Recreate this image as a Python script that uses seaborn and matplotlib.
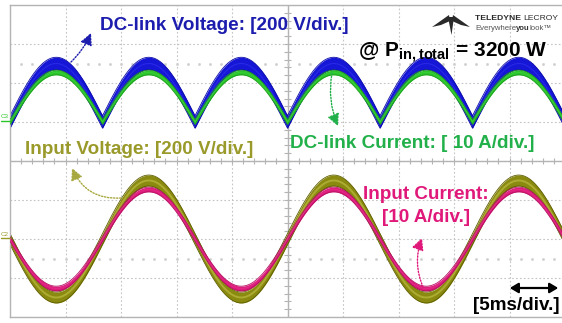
import numpy as np
import pandas as pd
import matplotlib
matplotlib.use("Agg")
import matplotlib.pyplot as plt
from matplotlib.patches import Polygon, FancyArrowPatch
from matplotlib import font_manager
import seaborn as sns

# ---- scope settings -------------------------------------------------------
time_per_div_ms = 5.0
n_hdiv = 10
n_vdiv = 8
volts_per_div = 200.0
amps_per_div = 10.0
dc_ground_div = 1.0     # C3 ground level (DC-link traces)
ac_ground_div = -2.0    # C2 ground level (input traces)

# ---- measured waveform parameters ------------------------------------------
line_freq_hz = 60.0
v_in_peak = 300.0        # V
i_in_peak = 12.7         # A
v_band = 32.0            # V, half width of DC-link voltage switching band
i_dc_band = 0.6          # A, half width of DC-link current band
v_in_band = 28.0         # V, half width of input voltage band
i_in_band = 0.6          # A, half width of input current band

labels = {
    "dc_v": "DC-link Voltage: [200 V/div.]",
    "dc_i": "DC-link Current: [ 10 A/div.]",
    "in_v": "Input Voltage: [200 V/div.]",
    "in_i": ["Input Current:", "[10 A/div.]"],
    "time": "[5ms/div.]",
    "power": r"@ $\mathbf{P}_{\mathbf{in,total}}$ = 3200 W",
}

W, H = 562, 323
sns.set_theme(style="white")
plt.rcParams["font.family"] = ["Liberation Sans", "DejaVu Sans"]
plt.rcParams["mathtext.fontset"] = "custom"
plt.rcParams["mathtext.bf"] = "Liberation Sans:bold"
plt.rcParams["mathtext.rm"] = "Liberation Sans"

installed = {f.name for f in font_manager.fontManager.ttflist}
narrow = "Liberation Sans Narrow" in installed
logo_family = ["Liberation Sans Narrow"] if narrow else ["Liberation Sans"]

fig = plt.figure(figsize=(W / 100, H / 100), dpi=100)
fig.patch.set_facecolor("white")

# screen area: 10 divisions wide, 8 divisions tall
ax = fig.add_axes([10 / W, (H - 317) / H, 555 / W, 312 / H])
t_end = n_hdiv * time_per_div_ms
ax.set_xlim(0, t_end)
ax.set_ylim(-n_vdiv / 2, n_vdiv / 2)
ax.set_xticks(np.arange(0, t_end + 0.1, time_per_div_ms))
ax.set_yticks(np.arange(-n_vdiv / 2, n_vdiv / 2 + 0.1, 1))
ax.tick_params(length=0, labelbottom=False, labelleft=False)
ax.grid(True, color="#c4c4c4", linestyle=(0, (1.5, 2)), linewidth=0.8)
for side in ["left", "top", "bottom", "right"]:
    ax.spines[side].set_color("#b4b4b4")
    ax.spines[side].set_linewidth(1.0)

# centre axes with minor ticks
ax.axhline(0, color="#b4b4b4", lw=1.0, zorder=1)
ax.axvline(t_end / 2, color="#b4b4b4", lw=1.0, zorder=1)
ax.vlines(np.arange(1, t_end, 1), -0.07, 0.07, color="#b4b4b4", lw=0.8, zorder=1)
ax.hlines(np.arange(-3.8, 4, 0.2), t_end / 2 - 0.3, t_end / 2 + 0.3,
          color="#b4b4b4", lw=0.8, zorder=1)
for yy in (2.5, -2.5):
    ax.plot(np.arange(1, t_end, 1), np.full(int(t_end) - 1, yy), ls="none",
            marker="s", ms=0.9, color="#cfcfcf", zorder=1)

# ---- waveforms ----------------------------------------------------------------
t = np.linspace(0, t_end, 4001)
phase = -np.sin(2 * np.pi * line_freq_hz * t / 1000.0)
df = pd.DataFrame({
    "t": t,
    "dc_v": dc_ground_div + np.abs(v_in_peak * phase) / volts_per_div,
    "dc_i": dc_ground_div + np.abs(i_in_peak * phase) / amps_per_div,
    "in_v": ac_ground_div + v_in_peak * phase / volts_per_div,
    "in_i": ac_ground_div + i_in_peak * phase / amps_per_div,
})


def band(col, half, fill, edge, centre, z, lw_c=1.0):
    ax.fill_between(df["t"], df[col] - half, df[col] + half, color=fill,
                    lw=0, zorder=z)
    ax.plot(df["t"], df[col] + half, color=edge, lw=0.6, zorder=z)
    ax.plot(df["t"], df[col] - half, color=edge, lw=0.6, zorder=z)
    sns.lineplot(data=df, x="t", y=col, ax=ax, color=centre, lw=lw_c,
                 estimator=None, errorbar=None, zorder=z + 0.1)


band("dc_v", v_band / volts_per_div, "#1616d6", "#0a0aa8", "#2828e6", 2, 0.8)
band("dc_i", i_dc_band / amps_per_div, "#2cc62c", "#1f9e1f", "#36d036", 3, 0.6)
band("in_v", v_in_band / volts_per_div, "#8a8a10", "#5e5e00", "#acac32", 2, 1.4)
band("in_i", i_in_band / amps_per_div, "#de1c7c", "#b41262", "#e42a86", 3, 0.6)
ax.set_xlabel("")
ax.set_ylabel("")


# ---- annotations (figure pixel helper) ---------------------------------------
def P(x, y):
    return (x / W, 1 - y / H)


lab = dict(fontsize=13.6, fontweight="bold", va="center", ha="left")
fig.text(*P(100, 25), labels["dc_v"], color="#1c1cae", **lab)
fig.text(*P(290, 143), labels["dc_i"], color="#22b04a", **lab)
fig.text(*P(25, 150), labels["in_v"], color="#9a9a2a", **lab)
fig.text(*P(426, 194), labels["in_i"][0], color="#e0187a",
         **{**lab, "ha": "center"})
fig.text(*P(426, 218), labels["in_i"][1], color="#e0187a",
         **{**lab, "ha": "center"})
fig.text(*P(473, 305), labels["time"], color="black", **lab)
fig.text(*P(358, 53), labels["power"], color="black", fontsize=15,
         fontweight="bold", va="center", ha="left")

# time-scale double arrow
fig.add_artist(FancyArrowPatch(
    P(507, 288), P(561, 288), transform=fig.transFigure,
    arrowstyle="<|-|>,head_length=5,head_width=3", color="black", lw=1.6))


def pointer(start, end, color, rad):
    ax.annotate("", xy=P(*end), xycoords="figure fraction",
                xytext=P(*start), textcoords="figure fraction",
                arrowprops=dict(arrowstyle="-|>,head_length=0.6,head_width=0.3",
                                color=color, lw=1.0, linestyle=(0, (1, 1.2)),
                                connectionstyle=f"arc3,rad={rad}",
                                shrinkA=0, shrinkB=0), zorder=6)


pointer((71, 62), (91, 33), "#1c1cae", 0.1)
pointer((332, 73), (338, 126), "#22b04a", 0.15)
pointer((121, 198), (72, 168), "#a8a840", -0.35)
pointer((423, 287), (422, 238), "#e0187a", -0.2)

# channel ground markers
fig.text(*P(5, 117), "C3", color="#2cc62c", fontsize=4.5, ha="center", va="center")
fig.add_artist(plt.Line2D([1 / W, 10 / W], [1 - 121 / H] * 2, color="#2cc62c", lw=1))
fig.text(*P(5, 234), "C2", color="#9a9a2a", fontsize=4.5, ha="center", va="center")
fig.add_artist(plt.Line2D([1 / W, 10 / W], [1 - 238 / H] * 2, color="#9a9a2a", lw=1))

# Teledyne LeCroy mark
logo_c = "#2a2a2a"
for poly in ([(432, 27), (449, 15), (450, 21), (441, 25)],
             [(448, 17), (454, 17), (451.5, 35)],
             [(470, 27), (453, 15), (452, 21), (461, 25)]):
    fig.add_artist(Polygon([P(*p) for p in poly], closed=True,
                           transform=fig.transFigure, color=logo_c, lw=0))

renderer = fig.canvas.get_renderer()


def run(x, y, parts, size):
    """Lay out text pieces left to right on one line (pixel coordinates)."""
    for text, color, weight in parts:
        txt = fig.text(*P(x, y), text, color=color, fontsize=size,
                       fontweight=weight, family=logo_family,
                       va="center", ha="left")
        x += txt.get_window_extent(renderer).width


run(475, 19, [("TELEDYNE ", logo_c, "bold"), ("LECROY", logo_c, "normal")],
    7.4 if narrow else 6.1)
run(475, 29, [("Everywhere", "#555555", "normal"), ("you", "#333333", "bold"),
              ("look\u2122", "#555555", "normal")],
    6.8 if narrow else 5.6)

fig.savefig("out.png", dpi=100, facecolor="white")
